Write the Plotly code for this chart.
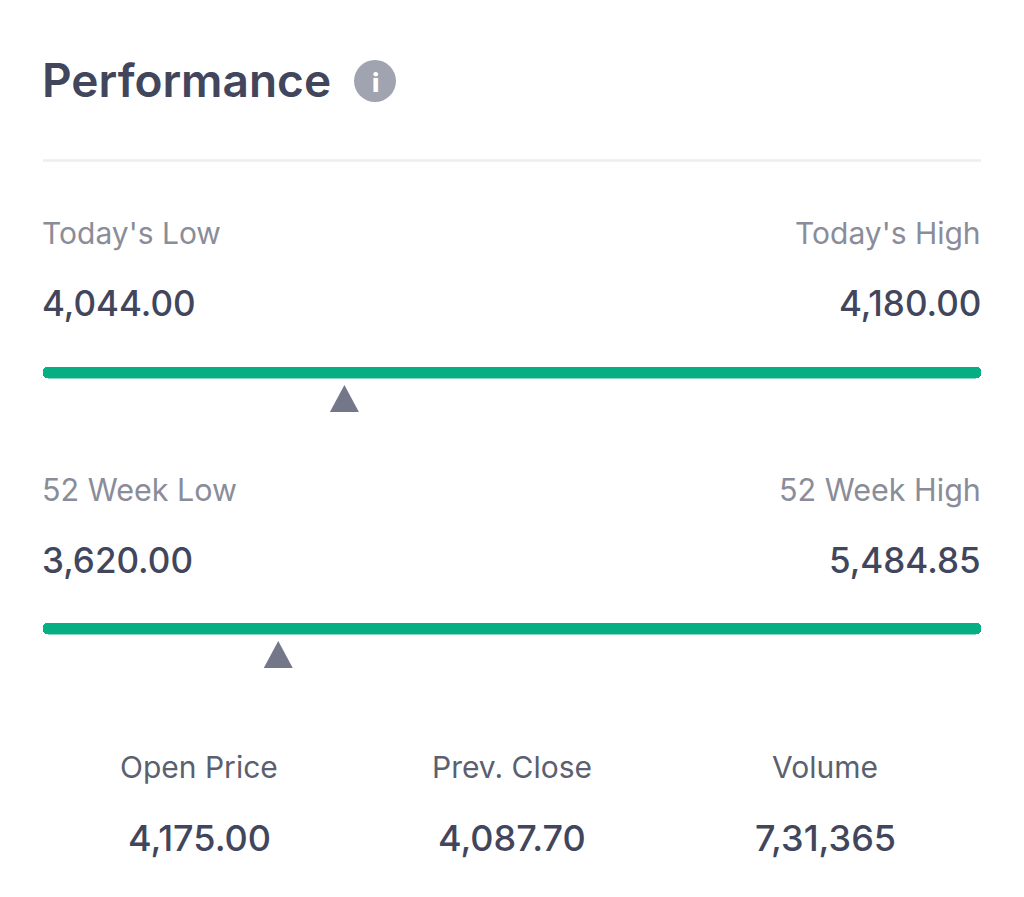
import plotly.graph_objects as go

TITLE = "Performance"
RANGE_NAMES = ["Today", "52 Week"]
LOW_LABELS = ["Today's Low", "52 Week Low"]
HIGH_LABELS = ["Today's High", "52 Week High"]
LOWS = [4044.00, 3620.00]
HIGHS = [4180.00, 5484.85]
CURRENT = [4087.70, 4087.70]
STAT_LABELS = ["Open Price", "Prev. Close", "Volume"]
STAT_VALUES = ["4,175.00", "4,087.70", "7,31,365"]

W, H = 1024, 897
FONT = "Inter"
DARK = "#41465C"
GREY = "#8A8D99"
MID = "#5B5F70"
GREEN = "#05AF82"
TRI = "#737789"
LEFT, RIGHT = 43, 981


def px(x):
    return x / W


def py(y):
    return 1 - y / H


fig = go.Figure()
annotations = []
shapes = []


def label(x, y, text, size, color, anchor="left", weight=400):
    annotations.append(dict(
        xref="paper", yref="paper", x=px(x), y=py(y), text=text, showarrow=False,
        xanchor=anchor, yanchor="middle", xshift=0, yshift=0, borderpad=0, borderwidth=0,
        font=dict(family=FONT, size=size, color=color, weight=weight),
    ))


label(LEFT - 1, 80, TITLE, 46, DARK, weight=600)
shapes.append(dict(type="circle", xref="paper", yref="paper", x0=px(354), x1=px(396),
                   y0=py(60), y1=py(102), fillcolor="#A0A3B0", line_width=0, layer="below"))
label(375, 82, "i", 26, "#FFFFFF", anchor="center", weight=800)
shapes.append(dict(type="line", xref="paper", yref="paper", x0=px(LEFT), x1=px(RIGHT),
                   y0=py(160.5), y1=py(160.5), line=dict(color="#EDEDEF", width=2.5)))

TOPS = [366.5, 622.5]
LABEL_Y = [233, 489]
LABEL_SIZE = [30, 30.5]
VALUE_Y = [303, 560]
TRI_BASE = [412, 668]

for i in range(2):
    n = "" if i == 0 else str(i + 1)
    fig.add_trace(go.Bar(
        x=[HIGHS[i] - LOWS[i]], base=[LOWS[i]], y=[RANGE_NAMES[i]], orientation="h",
        width=1, marker=dict(color=GREEN, line_width=0, cornerradius=5),
        xaxis=f"x{n}", yaxis=f"y{n}", showlegend=False,
    ))
    axis_common = dict(visible=False, fixedrange=True)
    fig.update_layout({
        f"xaxis{n}": dict(domain=[px(LEFT), px(RIGHT)], range=[LOWS[i], HIGHS[i]],
                          anchor=f"y{n}", **axis_common),
        f"yaxis{n}": dict(domain=[py(TOPS[i] + 12), py(TOPS[i])], anchor=f"x{n}",
                          type="category", range=[-0.5, 0.5], **axis_common),
    })
    shapes.append(dict(
        type="path", xref=f"x{n}", xsizemode="pixel", xanchor=CURRENT[i],
        yref="paper", ysizemode="pixel", yanchor=py(TRI_BASE[i]),
        path="M -14.5 0 L 14.5 0 L 0 27 Z", fillcolor=TRI, line_width=0,
    ))
    label(LEFT - 1, LABEL_Y[i], LOW_LABELS[i], LABEL_SIZE[i], GREY)
    label(RIGHT, LABEL_Y[i], HIGH_LABELS[i], LABEL_SIZE[i], GREY, anchor="right")
    label(LEFT - 1, VALUE_Y[i], f"{LOWS[i]:,.2f}", 35, DARK, weight=500)
    label(RIGHT, VALUE_Y[i], f"{HIGHS[i]:,.2f}", 35, DARK, anchor="right", weight=500)

STAT_X = [199, 512, 825]
for x, name, val in zip(STAT_X, STAT_LABELS, STAT_VALUES):
    label(x, 767, name, 30, MID, anchor="center")
    label(x, 838, val, 36, DARK, anchor="center", weight=500)

fig.update_layout(
    width=W, height=H, margin=dict(l=0, r=0, t=0, b=0, pad=0), autosize=False,
    paper_bgcolor="#FFFFFF", plot_bgcolor="#FFFFFF", barmode="overlay", bargap=0,
    annotations=annotations, shapes=shapes, showlegend=False,
)
fig.write_html("out.html", config={"displayModeBar": False},
               post_script="document.body.style.margin='0';")
